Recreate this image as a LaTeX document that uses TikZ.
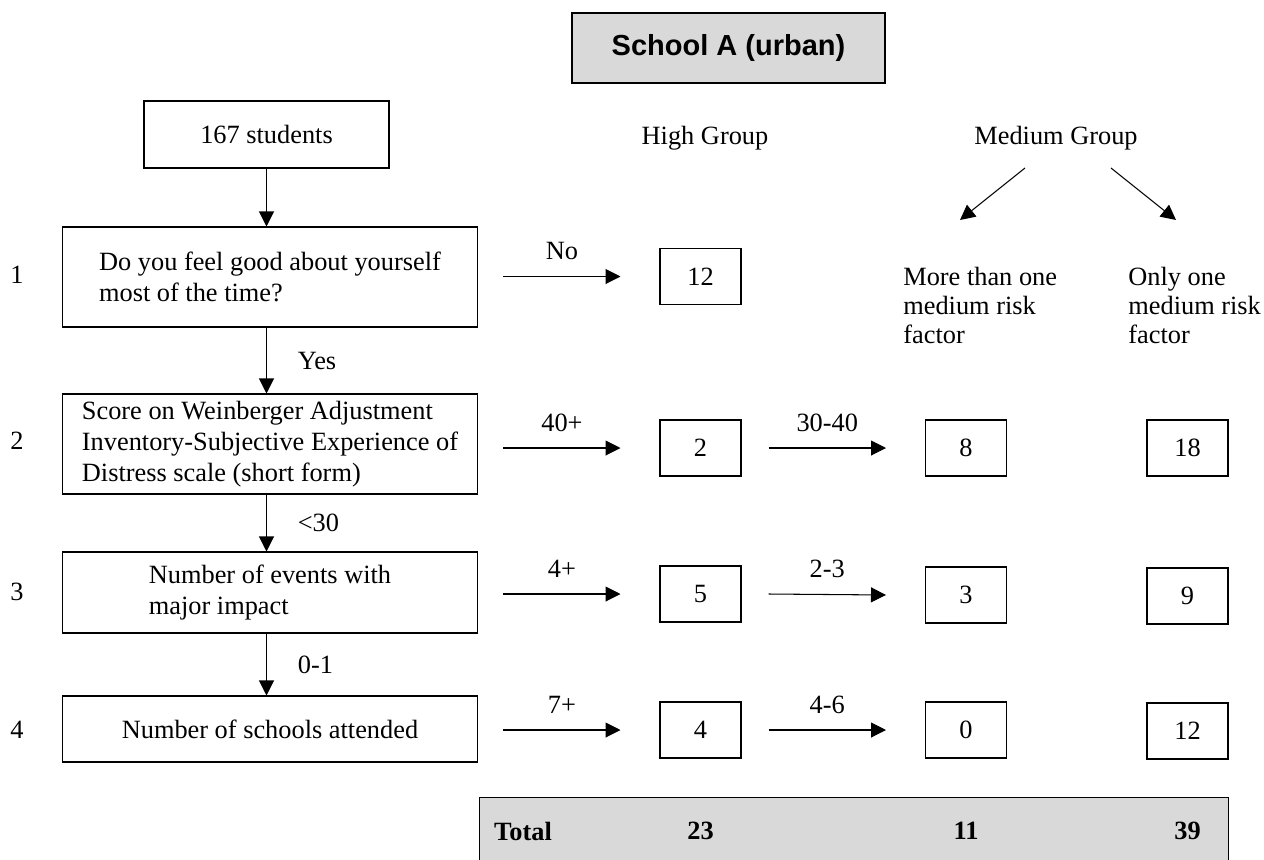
\documentclass[tikz,border=0pt]{standalone}
\usepackage{fontspec}
\setmainfont{Liberation Serif}
\setsansfont{Liberation Sans}
\usepackage{tikz}
\usetikzlibrary{arrows.meta}

\definecolor{boxgray}{RGB}{217,217,217}
\tikzset{
  qbox/.style={draw, line width=0.6pt, minimum width=8.32cm, align=left},
  nbox/.style={draw, line width=0.6pt, minimum width=1.62cm, minimum height=1.12cm},
  flow/.style={line width=0.6pt, -{Triangle[length=0.3cm,width=0.3cm]}},
  sumtext/.style={font=\rmfamily\fontsize{15}{17.5}\selectfont\bfseries},
}

\begin{document}
\begin{tikzpicture}[x=0.02cm, y=-0.02cm, font=\rmfamily\fontsize{15}{17.5}\selectfont]
        \useasboundingbox (0,0) rectangle (1264,859);
        \clip (0,0) rectangle (1264,859);
        % heading
        \node[draw, fill=boxgray, line width=1pt, minimum width=6.26cm, minimum height=1.4cm,
          font=\sffamily\bfseries\fontsize{16.5}{20}\selectfont] (title) at (728.5,48) {School A (urban)};
        \node (high) at (705,138) {High Group};
        \node (medium) at (1056,138) {Medium Group};
        \coordinate (mgl) at (1025,168);
        \coordinate (mgr) at (1111,168);
        \coordinate (morel) at (960,220);
        \coordinate (onlyr) at (1176,220);
        \draw[flow] (mgl) -- (morel);
        \draw[flow] (mgr) -- (onlyr);
        \node[anchor=north west, inner sep=0pt, align=left, font=\rmfamily\fontsize{15}{16.5}\selectfont] (more) at (903,267)
          {More than one\\medium risk\\factor};
        \node[anchor=north west, inner sep=0pt, align=left, font=\rmfamily\fontsize{15}{16.5}\selectfont] (only) at (1128,267)
          {Only one\\medium risk\\factor};

        % questions
        \node[draw, line width=0.6pt, minimum width=4.9cm, minimum height=1.34cm] (start) at (266.5,134.5) {167 students};
        \node[qbox, minimum height=2cm] (q1) at (270,277) {Do you feel good about yourself\\most of the time?};
        \node[qbox, minimum height=2cm] (q2) at (270,444)
          {Score on Weinberger Adjustment\\Inventory-Subjective Experience of\\Distress scale (short form)};
        \node[qbox, minimum height=1.62cm] (q3) at (270,592.5) {Number of events with\\major impact};
        \node[qbox, minimum height=1.32cm] (q4) at (270,729) {Number of schools attended};
        \node (r1) at (17,275) {1};
        \node (r2) at (17,441) {2};
        \node (r3) at (17,592) {3};
        \node (r4) at (17,730) {4};

        \draw[flow] (start.south) -- (start.south |- q1.north);
        \draw[flow] (q1.south -| start) -- (q2.north -| start) node[midway, right=0.5cm] {Yes};
        \draw[flow] (q2.south -| start) -- (q3.north -| start) node[midway, right=0.5cm] {<30};
        \draw[flow] (q3.south -| start) -- (q4.north -| start) node[midway, right=0.5cm] {0-1};

        % counts
        \node[nbox] (h1) at (700.5,276.5) {12};
        \node[nbox] (h2) at (700.5,448) {2};
        \node[nbox] (h3) at (700.5,594) {5};
        \node[nbox] (h4) at (700.5,730) {4};
        \node[nbox] (m2) at (966,448) {8};
        \node[nbox] (m3) at (966,595) {3};
        \node[nbox] (m4) at (966,730) {0};
        \node[nbox] (o2) at (1187.5,448) {18};
        \node[nbox] (o3) at (1187.5,596) {9};
        \node[nbox] (o4) at (1187.5,731) {12};

        \draw[flow] ([xshift=0.5cm]q1.east |- h1) -- ([xshift=-0.78cm]h1.west) node[midway, above=0.2cm] {No};
        \draw[flow] ([xshift=0.5cm]q2.east |- h2) -- ([xshift=-0.78cm]h2.west) node[midway, above=0.2cm] {40+};
        \draw[flow] ([xshift=0.5cm]q3.east |- h3) -- ([xshift=-0.78cm]h3.west) node[midway, above=0.2cm] {4+};
        \draw[flow] ([xshift=0.5cm]q4.east |- h4) -- ([xshift=-0.78cm]h4.west) node[midway, above=0.2cm] {7+};
        \draw[flow] ([xshift=0.54cm]h2.east) -- ([xshift=-0.78cm]m2.west) node[midway, above=0.2cm] {30-40};
        \draw[flow] ([xshift=0.54cm]h3.east) -- ([xshift=-0.78cm]m3.west) node[midway, above=0.2cm] {2-3};
        \draw[flow] ([xshift=0.54cm]h4.east) -- ([xshift=-0.78cm]m4.west) node[midway, above=0.2cm] {4-6};

        % totals, the box runs off the page
        \node[draw, fill=boxgray, line width=0.6pt, minimum width=14.98cm, minimum height=1.34cm, anchor=north west] (total) at (479,797) {};
        \node[sumtext, anchor=west] (tlabel) at ([xshift=0.18cm]total.west) {Total};
        \node[sumtext] (thigh) at (h4 |- total) {23};
        \node[sumtext] (tmore) at (m4 |- total) {11};
        \node[sumtext] (tonly) at (o4 |- total) {39};
      \end{tikzpicture}
\end{document}
